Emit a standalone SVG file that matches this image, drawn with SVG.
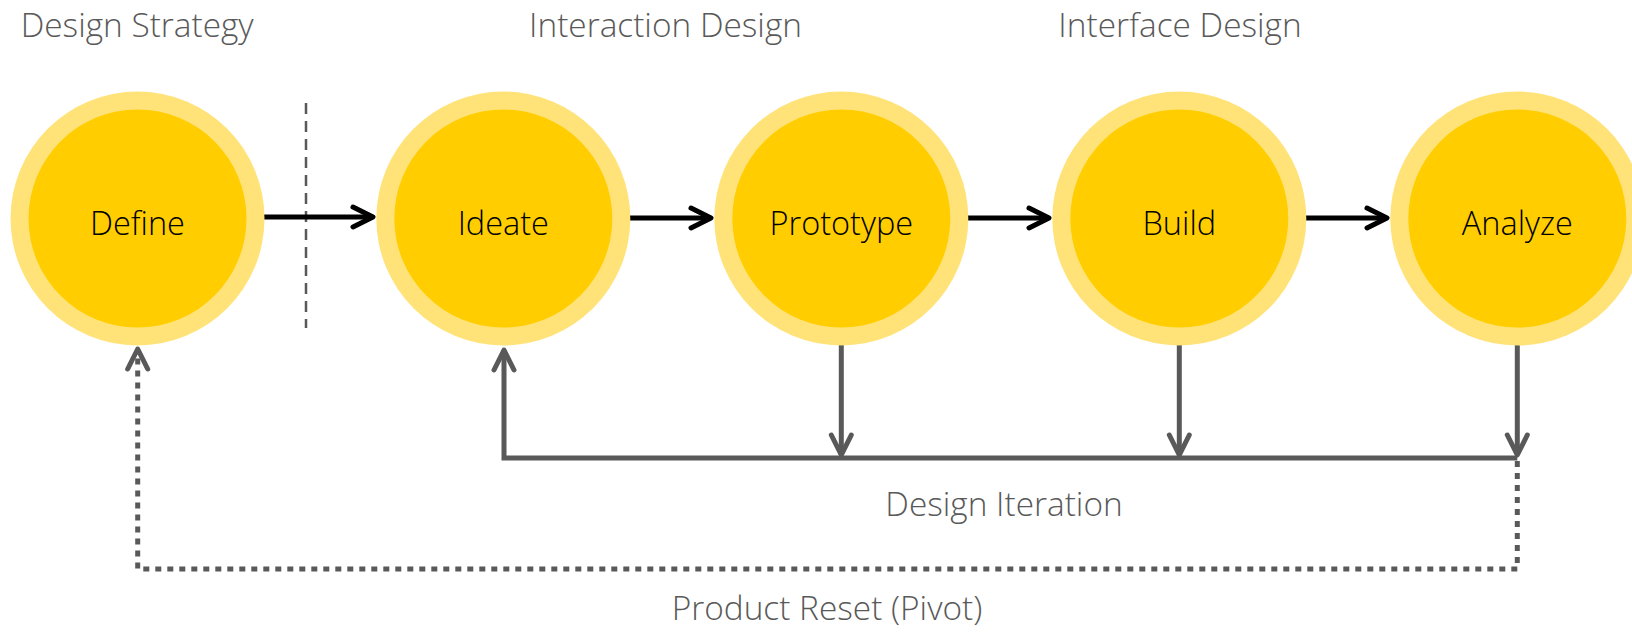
<svg xmlns="http://www.w3.org/2000/svg" width="1632" height="634" viewBox="0 0 1632 634">
<style>
.outer{fill:#FFE379}
.inner{fill:#FFCD00}
.lbl{font-family:"Open Sans","Noto Sans","Liberation Sans",sans-serif;font-weight:350;font-size:32.5px;fill:#000;text-anchor:middle}
.hdr{font-family:"Open Sans","Noto Sans","Liberation Sans",sans-serif;font-weight:300;font-size:33.4px;fill:#595959}
.blk{stroke:#000;stroke-width:5;fill:none}
.gry{stroke:#595959;stroke-width:5;fill:none}
.dot{stroke:#595959;stroke-width:5;fill:none;stroke-dasharray:6 6}
.dash{stroke:#595959;stroke-width:2.5;fill:none;stroke-dasharray:11 7}
</style>
<defs>
<marker id="ab" markerUnits="userSpaceOnUse" markerWidth="40" markerHeight="40" refX="0" refY="0" viewBox="-30 -20 40 40" orient="auto" overflow="visible">
<path d="M-20,-10 L0,0 L-20,10" fill="none" stroke="#000" stroke-width="5" stroke-linecap="round" stroke-linejoin="round"/>
</marker>
<marker id="ag" markerUnits="userSpaceOnUse" markerWidth="40" markerHeight="40" refX="0" refY="0" viewBox="-30 -20 40 40" orient="auto" overflow="visible">
<path d="M-20,-10 L0,0 L-20,10" fill="none" stroke="#595959" stroke-width="5" stroke-linecap="round" stroke-linejoin="round"/>
</marker>
</defs>
<rect width="1632" height="634" fill="#fff"/>
<g id="headers">
<text class="hdr" x="20.7" y="37">Design Strategy</text>
<text class="hdr" x="665.5" y="37" text-anchor="middle">Interaction Design</text>
<text class="hdr" x="1180" y="37" text-anchor="middle">Interface Design</text>
<text class="hdr" x="1004" y="516" text-anchor="middle">Design Iteration</text>
<text class="hdr" x="827" y="620" text-anchor="middle">Product Reset (Pivot)</text>
</g>
<g id="divider">
<line class="dash" x1="306" y1="103" x2="306" y2="328"/>
</g>
<g id="connectors">
<line class="blk" x1="264" y1="217" x2="373" y2="217" marker-end="url(#ab)"/>
<line class="blk" x1="630" y1="218" x2="711" y2="218" marker-end="url(#ab)"/>
<line class="blk" x1="968" y1="218" x2="1049" y2="218" marker-end="url(#ab)"/>
<line class="blk" x1="1306" y1="218" x2="1387" y2="218" marker-end="url(#ab)"/>
<line class="gry" x1="841.3" y1="345" x2="841.3" y2="455" marker-end="url(#ag)"/>
<line class="gry" x1="1179.3" y1="345" x2="1179.3" y2="455" marker-end="url(#ag)"/>
<line class="gry" x1="1517.3" y1="345" x2="1517.3" y2="455" marker-end="url(#ag)"/>
<polyline class="gry" points="1517.3,458 504,458 504,350" stroke-linejoin="miter" marker-end="url(#ag)"/>
<polyline class="dot" points="1517.3,461 1517.3,569 137.7,569 137.7,352"/>
<line x1="137.7" y1="358" x2="137.7" y2="349" stroke="none" marker-end="url(#ag)"/>
</g>
<g id="node-define">
<circle class="outer" cx="137.5" cy="218.5" r="127"/>
<circle class="inner" cx="137.5" cy="218.5" r="109"/>
<text class="lbl" x="137.5" y="235">Define</text>
</g>
<g id="node-ideate">
<circle class="outer" cx="503.3" cy="218.5" r="127"/>
<circle class="inner" cx="503.3" cy="218.5" r="109"/>
<text class="lbl" x="503.3" y="235">Ideate</text>
</g>
<g id="node-prototype">
<circle class="outer" cx="841.3" cy="218.5" r="127"/>
<circle class="inner" cx="841.3" cy="218.5" r="109"/>
<text class="lbl" x="841.3" y="235">Prototype</text>
</g>
<g id="node-build">
<circle class="outer" cx="1179.3" cy="218.5" r="127"/>
<circle class="inner" cx="1179.3" cy="218.5" r="109"/>
<text class="lbl" x="1179.3" y="235">Build</text>
</g>
<g id="node-analyze">
<circle class="outer" cx="1517.3" cy="218.5" r="127"/>
<circle class="inner" cx="1517.3" cy="218.5" r="109"/>
<text class="lbl" x="1517.3" y="235">Analyze</text>
</g>
</svg>
